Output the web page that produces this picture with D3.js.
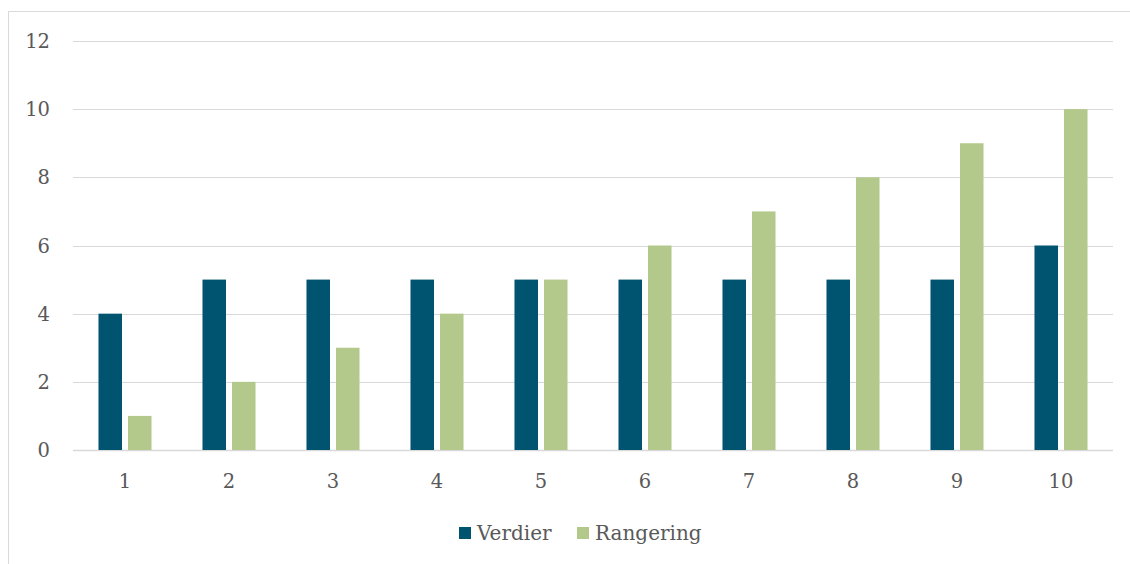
<!DOCTYPE html>
<html><head><meta charset="utf-8">
<script src="https://cdn.jsdelivr.net/npm/d3@7"></script>
<style>body{margin:0;background:#fff}text{font-family:"DejaVu Serif","Liberation Serif",serif;fill:#595959}</style>
</head><body><svg id="c" width="1130" height="564"></svg>
<script>
const categories = ["1","2","3","4","5","6","7","8","9","10"];
const seriesNames = ["Verdier","Rangering"];
const verdier = [4,5,5,5,5,5,5,5,5,6];
const rangering = [1,2,3,4,5,6,7,8,9,10];
const yTicks = [0,2,4,6,8,10,12];
const colors = ["#00546F","#B2C98B"];

const svg = d3.select("#c");
svg.append("rect").attr("x",8.5).attr("y",11.5).attr("width",1140).attr("height",600)
  .attr("fill","none").attr("stroke","#d9d9d9").attr("stroke-width",1);

const y = d3.scaleLinear().domain([0,12]).range([450,41]);
const x0 = d3.scaleBand().domain(categories).range([73,1113]).paddingInner(0.49).paddingOuter(0.245);
const x1 = d3.scaleBand().domain(seriesNames).range([0,x0.bandwidth()]).paddingInner(0.2034);

const g = svg.append("g");
g.selectAll("line.grid").data(yTicks).enter().append("line")
  .attr("x1",73).attr("x2",1113).attr("y1",d=>Math.round(y(d))+0.5).attr("y2",d=>Math.round(y(d))+0.5)
  .attr("stroke","#d9d9d9").attr("stroke-width",d=>d===0?1.5:1);

const data = categories.map((c,i)=>({c, vals:[verdier[i], rangering[i]]}));
const grp = g.selectAll("g.cat").data(data).enter().append("g").attr("transform",d=>`translate(${x0(d.c)},0)`);
grp.selectAll("rect").data(d=>d.vals.map((v,j)=>({s:seriesNames[j],v,j}))).enter().append("rect")
  .attr("x",d=>x1(d.s)).attr("width",x1.bandwidth())
  .attr("y",d=>y(d.v)).attr("height",d=>y(0)-y(d.v)).attr("fill",d=>colors[d.j]);

g.selectAll("text.yl").data(yTicks).enter().append("text")
  .attr("x",50).attr("y",d=>y(d)).attr("dy","0.36em").attr("text-anchor","end")
  .attr("font-size",19.5).text(d=>d);
g.selectAll("text.xl").data(categories).enter().append("text")
  .attr("x",d=>x0(d)+x0.bandwidth()/2).attr("y",488).attr("text-anchor","middle")
  .attr("font-size",19.5).text(d=>d);

const leg = svg.append("g");
const legX = [459,577];
seriesNames.forEach((s,i)=>{
  leg.append("rect").attr("x",legX[i]).attr("y",527).attr("width",12).attr("height",12).attr("fill",colors[i]);
  leg.append("text").attr("x",legX[i]+18).attr("y",540).attr("font-size",20).text(s);
});
</script></body></html>
